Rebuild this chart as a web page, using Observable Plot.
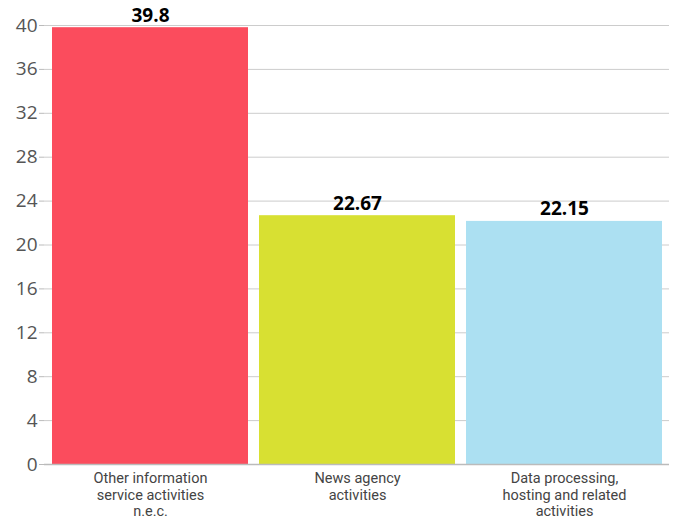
<!DOCTYPE html>
<html>
<head>
<meta charset="utf-8">
<script src="https://cdn.jsdelivr.net/npm/d3@7"></script>
<script src="https://cdn.jsdelivr.net/npm/@observablehq/plot@0.6"></script>
<style>
  html, body { margin: 0; padding: 0; background: #fff; }
  #chart { width: 676px; height: 518px; overflow: hidden; }
</style>
</head>
<body>
<div id="chart"></div>
<script>
const categories = [
  "Other information\nservice activities\nn.e.c.",
  "News agency\nactivities",
  "Data processing,\nhosting and related\nactivities"
];
const values = [39.8, 22.67, 22.15];
const colors = ["#fb4c5d", "#d8e032", "#ace0f2"];
const yTicks = [0, 4, 8, 12, 16, 20, 24, 28, 32, 36, 40];

const data = categories.map((c, i) => ({category: c, value: values[i], color: colors[i]}));

const chart = Plot.plot({
  width: 676,
  height: 518,
  marginTop: 25,
  marginBottom: 54,
  marginLeft: 44,
  marginRight: 7,
  style: {fontFamily: "Roboto, 'Noto Sans', sans-serif", background: "#fff"},
  x: {domain: categories, paddingInner: 0.055, paddingOuter: 0.03, label: null},
  y: {domain: [0, 40], label: null},
  marks: [
    Plot.gridY(yTicks, {stroke: "#cccccc", strokeOpacity: 1, strokeWidth: 1}),
    Plot.axisY(yTicks, {tickSize: 5, tickPadding: 2, stroke: "#bbbbbb", fill: "#555555", fontSize: 19, fontFamily: "'Open Sans', sans-serif", label: null}),
    Plot.axisX({tickSize: 0, tickPadding: 6, fill: "#444444", fontSize: 14.5, lineHeight: 1.17, label: null}),
    Plot.barY(data, {x: "category", y: "value", fill: "color"}),
    Plot.ruleY([0], {stroke: "#bbbbbb", strokeWidth: 1.5}),
    Plot.text(data, {x: "category", y: "value", text: d => String(d.value), lineAnchor: "bottom", dy: -6, fontSize: 19, fontWeight: "bold", fontFamily: "'Open Sans', sans-serif", fill: "#000"})
  ]
});
document.getElementById("chart").appendChild(chart);
</script>
</body>
</html>
